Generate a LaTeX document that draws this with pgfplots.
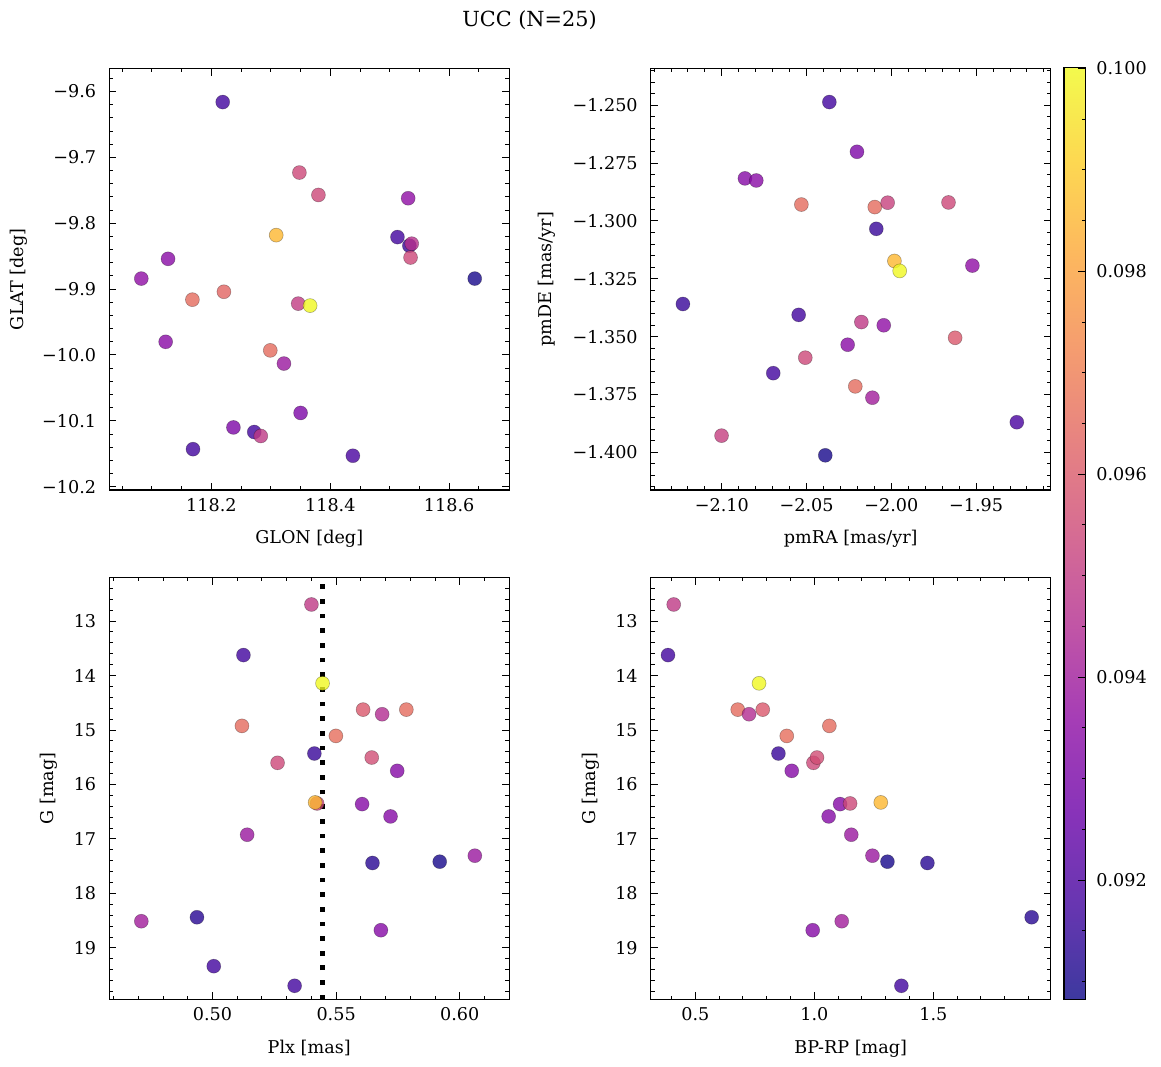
\documentclass[border=0pt]{standalone}
\usepackage{pgfplots}
\pgfplotsset{compat=1.18}
\usepackage{fontspec}
\setmainfont{DejaVu Serif}
\pgfplotsset{
  colormap={plasma}{rgb255=(13,8,135) rgb255=(65,4,157) rgb255=(106,0,168) rgb255=(143,13,164) rgb255=(177,42,144) rgb255=(204,71,120) rgb255=(225,100,98) rgb255=(242,132,75) rgb255=(252,166,54) rgb255=(252,206,37) rgb255=(240,249,33)},
  colormap={plasmaA}{rgb255=(61,57,159) rgb255=(103,54,177) rgb255=(136,51,185) rgb255=(165,61,182) rgb255=(193,85,166) rgb255=(214,108,147) rgb255=(231,131,129) rgb255=(245,157,111) rgb255=(253,184,94) rgb255=(253,216,81) rgb255=(243,250,77)},
  panel/.style={
    scale only axis, width=200bp, height=211bp, anchor=north west,
    axis line style={line width=0.6bp},
    every tick/.style={black, line width=0.5bp},
    major tick length=3.6bp, minor tick length=1.9bp,
    tick align=inside, tick pos=both,
    tick label style={font=\fontsize{8.8bp}{10bp}\selectfont},
    label style={font=\fontsize{8.8bp}{10bp}\selectfont},
    yticklabel style={xshift=-3bp},
    xticklabel style={yshift=-0.5bp},
    xlabel style={at={(axis description cs:0.5,-0.128)}, anchor=base},
    colormap name=plasma,
    point meta min=0.090826, point meta max=0.10001,
  },
  pts/.style={scatter, only marks, mark=*, mark size=3.5bp, point meta=explicit,
    scatter/use mapped color={draw=black, draw opacity=0.3, fill=mapped color, fill opacity=0.8},
    mark options={line width=0.3bp}},
}
\begin{document}
\begin{tikzpicture}
\useasboundingbox (0,0) rectangle (580.5bp,-533.5bp);
\node[font=\fontsize{10.4bp}{12bp}\selectfont, anchor=base] at (264.75bp,-13.35bp) {UCC (N=25)};

% Top left
\begin{axis}[panel, at={(54.6bp,-34.25bp)}, height=210.75bp,
  xmin=118.028, xmax=118.701, ymin=-10.205, ymax=-9.565,
  xtick={118.2,118.4,118.6}, xticklabels={118.2,118.4,118.6},
  minor xtick={118.05,118.1,118.15,118.25,118.3,118.35,118.45,118.5,118.55,118.65},
  ytick={-9.6,-9.7,-9.8,-9.9,-10.0,-10.1,-10.2},
  yticklabels={−9.6,−9.7,−9.8,−9.9,−10.0,−10.1,−10.2},
  minor ytick={-10.18,-10.16,-10.14,-10.12,-10.08,-10.06,-10.04,-10.02,-9.98,-9.96,-9.94,-9.92,-9.88,-9.86,-9.84,-9.82,-9.78,-9.76,-9.74,-9.72,-9.68,-9.66,-9.64,-9.62,-9.58},
  xlabel={GLON [deg]}, ylabel={GLAT [deg]},
  ylabel style={at={(axis description cs:-0.215,0.5)}, anchor=base},
]
\addplot[pts] table[x index=0, y index=1, meta index=2] {
118.219 -9.616 0.09174
118.348 -9.723 0.09542
118.380 -9.757 0.09542
118.531 -9.762 0.09358
118.309 -9.818 0.09854
118.513 -9.821 0.09174
118.533 -9.834 0.09156
118.537 -9.831 0.09468
118.535 -9.852 0.09542
118.127 -9.854 0.09340
118.082 -9.884 0.09358
118.643 -9.884 0.09101
118.221 -9.904 0.09634
118.168 -9.916 0.09652
118.346 -9.922 0.09505
118.366 -9.925 0.10000
118.123 -9.980 0.09340
118.299 -9.993 0.09652
118.322 -10.013 0.09386
118.350 -10.088 0.09312
118.237 -10.110 0.09312
118.272 -10.117 0.09174
118.283 -10.123 0.09496
118.169 -10.143 0.09174
118.438 -10.153 0.09193
};
\end{axis}

% Top right
\begin{axis}[panel, at={(325.35bp,-34.25bp)}, height=210.75bp,
  xmin=-2.142, xmax=-1.906, ymin=-1.4163, ymax=-1.2341,
  xtick={-2.10,-2.05,-2.00,-1.95}, xticklabels={−2.10,−2.05,−2.00,−1.95},
  minor xtick={-2.14,-2.13,-2.12,-2.11,-2.09,-2.08,-2.07,-2.06,-2.04,-2.03,-2.02,-2.01,-1.99,-1.98,-1.97,-1.96,-1.94,-1.93,-1.92,-1.91},
  ytick={-1.25,-1.275,-1.3,-1.325,-1.35,-1.375,-1.4},
  yticklabels={−1.250,−1.275,−1.300,−1.325,−1.350,−1.375,−1.400},
  minor ytick={-1.415,-1.41,-1.405,-1.395,-1.39,-1.385,-1.38,-1.37,-1.365,-1.36,-1.355,-1.345,-1.34,-1.335,-1.33,-1.32,-1.315,-1.31,-1.305,-1.295,-1.29,-1.285,-1.28,-1.27,-1.265,-1.26,-1.255,-1.245,-1.24,-1.235},
  xlabel={pmRA [mas/yr]}, ylabel={pmDE [mas/yr]},
  ylabel style={at={(axis description cs:-0.248,0.5)}, anchor=base},
  colorbar,
  colorbar style={
    at={(parent axis.north east)}, anchor=north west, xshift=-1.85bp, yshift=0.6bp,
    scale only axis, width=10.65bp, height=466bp,
    colormap name=plasmaA,
    axis line style={line width=0.6bp},
    every tick/.style={black, line width=0.5bp},
    major tick length=3.6bp, minor tick length=1.9bp,
    ytick={0.092,0.094,0.096,0.098,0.100},
    yticklabels={0.092,0.094,0.096,0.098,0.100},
    minor ytick={0.091,0.0915,0.0925,0.093,0.0935,0.0945,0.095,0.0955,0.0965,0.097,0.0975,0.0985,0.099,0.0995},
    ytick pos=right, yticklabel pos=right, tick align=inside,
    yticklabel style={xshift=2bp, font=\fontsize{8.8bp}{10bp}\selectfont},
  },
]
\addplot[pts] table[x index=0, y index=1, meta index=2] {
-2.0366 -1.2486 0.09174
-2.0203 -1.2701 0.09312
-2.0864 -1.2816 0.09331
-2.0797 -1.2825 0.09340
-2.0531 -1.2929 0.09652
-2.0098 -1.2940 0.09652
-2.0022 -1.2921 0.09523
-1.9663 -1.2920 0.09542
-2.0089 -1.3034 0.09156
-1.9982 -1.3173 0.09854
-1.9951 -1.3216 0.10000
-1.9522 -1.3193 0.09358
-2.1230 -1.3359 0.09156
-2.0547 -1.3406 0.09174
-2.0177 -1.3437 0.09496
-2.0045 -1.3451 0.09358
-1.9624 -1.3505 0.09597
-2.0258 -1.3535 0.09340
-2.0508 -1.3591 0.09542
-2.0697 -1.3658 0.09174
-2.0213 -1.3715 0.09652
-2.0112 -1.3764 0.09404
-1.9260 -1.3870 0.09193
-2.1002 -1.3928 0.09514
-2.0390 -1.4013 0.09101
};
\end{axis}

% Bottom left
\begin{axis}[panel, at={(54.6bp,-288.75bp)},
  xmin=0.4582, xmax=0.620, ymin=12.2, ymax=19.947, y dir=reverse,
  xtick={0.50,0.55,0.60}, xticklabels={0.50,0.55,0.60},
  minor xtick={0.46,0.47,0.48,0.49,0.51,0.52,0.53,0.54,0.56,0.57,0.58,0.59,0.61,0.62},
  ytick={13,14,15,16,17,18,19}, yticklabels={13,14,15,16,17,18,19},
  minor ytick={12.4,12.6,12.8,13.2,13.4,13.6,13.8,14.2,14.4,14.6,14.8,15.2,15.4,15.6,15.8,16.2,16.4,16.6,16.8,17.2,17.4,17.6,17.8,18.2,18.4,18.6,18.8,19.2,19.4,19.6,19.8},
  xlabel={Plx [mas]}, ylabel={G [mag]},
  ylabel style={at={(axis description cs:-0.139,0.5)}, anchor=base},
]
\addplot[black, line width=2.35bp, dash pattern=on 2.35bp off 4.98bp] coordinates {(0.5445,19.947) (0.5445,12.2)};
\addplot[pts] table[x index=0, y index=1, meta index=2] {
0.5400 12.695 0.09496
0.5125 13.624 0.09174
0.5445 14.142 0.10000
0.5609 14.625 0.09597
0.5686 14.710 0.09450
0.5784 14.625 0.09652
0.5119 14.924 0.09652
0.5499 15.108 0.09661
0.5412 15.431 0.09156
0.5263 15.602 0.09542
0.5644 15.505 0.09560
0.5747 15.749 0.09331
0.5423 16.348 0.09542
0.5415 16.329 0.09854
0.5605 16.360 0.09331
0.5720 16.586 0.09331
0.5140 16.922 0.09386
0.5647 17.441 0.09128
0.5919 17.417 0.09101
0.6061 17.307 0.09386
0.4712 18.510 0.09404
0.4937 18.437 0.09128
0.5681 18.675 0.09331
0.5005 19.335 0.09174
0.5332 19.695 0.09174
};
\end{axis}

% Bottom right
\begin{axis}[panel, at={(325.35bp,-288.75bp)},
  xmin=0.3123, xmax=1.993, ymin=12.2, ymax=19.947, y dir=reverse,
  xtick={0.5,1.0,1.5}, xticklabels={0.5,1.0,1.5},
  minor xtick={0.4,0.6,0.7,0.8,0.9,1.1,1.2,1.3,1.4,1.6,1.7,1.8,1.9},
  ytick={13,14,15,16,17,18,19}, yticklabels={13,14,15,16,17,18,19},
  minor ytick={12.4,12.6,12.8,13.2,13.4,13.6,13.8,14.2,14.4,14.6,14.8,15.2,15.4,15.6,15.8,16.2,16.4,16.6,16.8,17.2,17.4,17.6,17.8,18.2,18.4,18.6,18.8,19.2,19.4,19.6,19.8},
  xlabel={BP-RP [mag]}, ylabel={G [mag]},
  ylabel style={at={(axis description cs:-0.139,0.5)}, anchor=base},
]
\addplot[pts] table[x index=0, y index=1, meta index=2] {
0.409 12.695 0.09496
0.385 13.624 0.09174
0.7675 14.142 0.10000
0.678 14.625 0.09652
0.7255 14.710 0.09450
0.783 14.625 0.09597
1.063 14.924 0.09652
0.884 15.108 0.09661
0.849 15.431 0.09156
0.996 15.602 0.09542
1.011 15.505 0.09560
0.905 15.749 0.09331
1.108 16.360 0.09331
1.150 16.348 0.09542
1.279 16.329 0.09854
1.060 16.586 0.09331
1.155 16.922 0.09386
1.475 17.441 0.09128
1.307 17.417 0.09101
1.244 17.307 0.09386
1.115 18.510 0.09404
1.913 18.437 0.09128
0.993 18.675 0.09331
1.3655 19.695 0.09174
};
\end{axis}
\end{tikzpicture}
\end{document}
